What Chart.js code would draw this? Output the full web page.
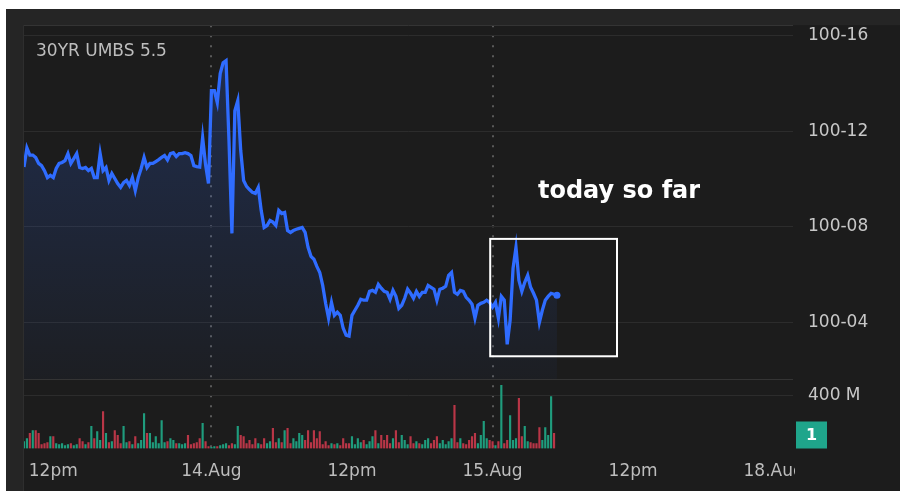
<!DOCTYPE html>
<html>
<head>
<meta charset="utf-8">
<script src="https://cdn.jsdelivr.net/npm/chart.js@4.4.1/dist/chart.umd.min.js"></script>
<style>
  html, body { margin: 0; padding: 0; background: #fff; }
  #wrap { width: 900px; height: 491px; }
</style>
</head>
<body>
<div id="wrap"><canvas id="umbsChart" width="900" height="491"></canvas></div>
<script>
// 30YR UMBS 5.5 - precio en 32avos sobre 100, una barra cada 15 min
const priceValues = [
  10.5, 11.3, 11.0, 11.0, 10.9, 10.65, 10.56, 10.35, 10.06, 10.15,
  10.06, 10.44, 10.65, 10.69, 10.77, 11.06, 10.65, 10.85, 11.06, 10.48,
  10.44, 10.48, 10.35, 10.44, 10.06, 10.06, 11.06, 10.35, 10.48, 9.94,
  10.23, 10.02, 9.81, 9.65, 9.85, 9.94, 9.73, 10.06, 9.52, 10.06,
  10.44, 10.9, 10.48, 10.65, 10.65, 10.73, 10.81, 10.9, 10.98, 10.8,
  11.06, 11.1, 10.94, 11.06, 11.06, 11.1, 11.06, 10.98, 10.56, 10.52,
  10.5, 11.73, 10.6, 9.81, 13.69, 13.69, 13.19, 14.4, 14.85, 14.94,
  11.6, 7.73, 12.85, 13.27, 11.2, 9.94, 9.69, 9.56, 9.44, 9.4,
  9.65, 8.69, 7.98, 8.06, 8.27, 8.2, 8.06, 8.69, 8.56, 8.6,
  7.85, 7.77, 7.85, 7.9, 7.94, 7.98, 7.77, 7.15, 6.77, 6.65,
  6.35, 6.1, 5.56, 4.81, 4.19, 4.85, 4.31, 4.44, 4.31, 3.77,
  3.48, 3.44, 4.31, 4.52, 4.73, 4.98, 4.94, 4.94, 5.31, 5.35,
  5.27, 5.6, 5.44, 5.31, 5.27, 4.98, 5.35, 5.1, 4.6, 4.73,
  5.02, 5.4, 5.23, 5.02, 5.31, 5.1, 5.27, 5.27, 5.56, 5.48,
  5.4, 4.94, 5.4, 5.44, 5.52, 5.98, 6.1, 5.27, 5.19, 5.35,
  5.31, 5.06, 4.94, 4.77, 4.19, 4.73, 4.81, 4.85, 4.94, 4.85,
  4.65, 4.85, 4.19, 5.1, 4.94, 3.1, 4.1, 6.27, 7.15, 5.77,
  5.31, 5.69, 5.98, 5.48, 5.23, 4.94, 4.02, 4.52, 4.94, 5.1,
  5.23, 5.19, 5.15
];

// Volumen en millones
const volumeValues = [
  53, 76, 114, 136, 136, 114, 30, 38, 45, 91,
  91, 38, 30, 38, 23, 30, 38, 23, 30, 76,
  53, 30, 45, 167, 76, 129, 61, 280, 114, 45,
  53, 136, 99, 38, 167, 45, 53, 30, 91, 38,
  61, 265, 114, 114, 45, 91, 38, 212, 45, 53,
  76, 61, 38, 38, 30, 38, 99, 30, 38, 45,
  76, 190, 53, 15, 8, 15, 15, 23, 30, 38,
  23, 38, 30, 167, 99, 91, 38, 61, 30, 76,
  38, 30, 76, 38, 53, 152, 45, 76, 45, 136,
  152, 38, 76, 53, 114, 99, 61, 136, 45, 136,
  76, 129, 30, 53, 23, 38, 30, 38, 23, 76,
  38, 38, 91, 30, 76, 45, 61, 30, 53, 91,
  136, 38, 99, 61, 99, 38, 76, 136, 45, 99,
  61, 30, 91, 38, 53, 38, 30, 61, 76, 38,
  61, 91, 38, 61, 30, 53, 76, 326, 45, 76,
  38, 30, 61, 91, 114, 38, 99, 205, 76, 61,
  53, 23, 53, 478, 38, 61, 250, 61, 76, 379,
  91, 167, 53, 45, 38, 38, 159, 61, 159, 99,
  394, 114
];

// Eje X: numero de barra (15 min), con fines de semana omitidos
const tickBars = [10, 64, 112, 160, 208, 256];
const tickLabels = ['12pm', '14.Aug', '12pm', '15.Aug', '12pm', '18.Aug'];
const dayBreaks = [64, 160];
const xRange = [0, 262.6];

// Eje Y
const priceTicks = [4, 8, 12, 16];
const priceRange = [1.65, 16.42];
const volumeTicks = [400];
const volumeRange = [0, 526];

// Anotaciones
const chartTitle = '30YR UMBS 5.5';
const todayBox = { from: 159.2, to: 202.5, top: 7.5, bottom: 2.6 };
const todayLabel = { text: 'today so far', bar: 175.5, price: 9.45 };
const volumeBadge = '1';

const FONT = 'DejaVu Sans';

function fmt32(v) {
    return '100-' + String(v).padStart(2, '0');
}

// Fondo y marco
const frameBackground = {
    id: 'frameBackground',
    beforeDraw(chart) {
        const { ctx, width, height, chartArea } = chart;
        ctx.save();
        ctx.fillStyle = '#ffffff';
        ctx.fillRect(0, 0, width, height);
        ctx.fillStyle = '#252525';
        ctx.fillRect(6, 9, width - 6, height - 9);
        ctx.fillStyle = '#1c1c1c';
        ctx.fillRect(chartArea.left, chartArea.top, width - chartArea.left, height - chartArea.top);
        ctx.fillStyle = '#2e2e2e';
        ctx.fillRect(chartArea.left - 1, chartArea.top, 1, height - chartArea.top);
        ctx.restore();
    },
    afterDraw(chart) {
        const { ctx, chartArea, width, height } = chart;
        ctx.save();
        // recorte de la ultima etiqueta del eje X
        ctx.fillStyle = '#1c1c1c';
        ctx.fillRect(chartArea.right + 2, chartArea.bottom + 4, width - chartArea.right, height - chartArea.bottom);
        // titulo
        ctx.font = '17px "' + FONT + '"';
        ctx.fillStyle = '#bdbdbd';
        ctx.textBaseline = 'middle';
        ctx.textAlign = 'left';
        ctx.fillText(chartTitle, chartArea.left + 12, chartArea.top + 26);
        // etiqueta verde del volumen
        const bx = chartArea.right + 3;
        const by = chartArea.bottom - 27;
        ctx.fillStyle = '#1fa58b';
        ctx.fillRect(bx, by, 31, 27);
        ctx.fillStyle = '#ffffff';
        ctx.font = 'bold 16px "' + FONT + '"';
        ctx.textAlign = 'center';
        ctx.fillText(volumeBadge, bx + 15.5, by + 14);
        ctx.restore();
    }
};

// Caja "today so far"
const todayAnnotation = {
    id: 'todayAnnotation',
    afterDatasetsDraw(chart) {
        const { ctx, scales } = chart;
        const x1 = scales.x.getPixelForValue(todayBox.from);
        const x2 = scales.x.getPixelForValue(todayBox.to);
        const y1 = scales.y.getPixelForValue(todayBox.top);
        const y2 = scales.y.getPixelForValue(todayBox.bottom);
        ctx.save();
        ctx.strokeStyle = '#ffffff';
        ctx.lineWidth = 2;
        ctx.strokeRect(x1, y1, x2 - x1, y2 - y1);
        ctx.fillStyle = '#ffffff';
        ctx.font = 'bold 24px "' + FONT + '"';
        ctx.textBaseline = 'middle';
        ctx.textAlign = 'left';
        ctx.fillText(todayLabel.text, scales.x.getPixelForValue(todayLabel.bar), scales.y.getPixelForValue(todayLabel.price));
        ctx.restore();
    }
};

const pricePoints = priceValues.map((v, i) => ({ x: i, y: v }));
const volumePoints = volumeValues.map((v, i) => ({ x: i, y: v }));
const volumeColors = volumeValues.map((v, i) =>
    (i === 0 || priceValues[i] >= priceValues[i - 1]) ? '#1f9c7d' : '#b93647');

const ctx = document.getElementById('umbsChart').getContext('2d');
const umbsChart = new Chart(ctx, {
    data: {
        datasets: [
            {
                type: 'line',
                label: chartTitle,
                data: pricePoints,
                yAxisID: 'y',
                borderColor: '#2f6cff',
                borderWidth: 3.3,
                tension: 0,
                pointRadius: pricePoints.map((p, i) => i === pricePoints.length - 1 ? 3.5 : 0),
                pointBackgroundColor: '#2f6cff',
                pointBorderWidth: 0,
                fill: 'start',
                backgroundColor: (c) => {
                    const chart = c.chart;
                    if (!chart.chartArea) return 'rgba(47,108,255,0.1)';
                    const ys = chart.scales.y;
                    const g = chart.ctx.createLinearGradient(0, ys.top, 0, ys.bottom);
                    g.addColorStop(0, 'rgba(47,108,255,0.24)');
                    g.addColorStop(1, 'rgba(47,108,255,0.03)');
                    return g;
                },
                order: 1
            },
            {
                type: 'bar',
                label: 'Volume',
                data: volumePoints,
                yAxisID: 'yVol',
                backgroundColor: volumeColors,
                barThickness: 1.5,
                grouped: false,
                order: 2
            }
        ]
    },
    options: {
        responsive: false,
        animation: false,
        layout: { padding: { left: 24, top: 25, right: 0, bottom: 0 } },
        plugins: {
            legend: { display: false },
            tooltip: { enabled: false }
        },
        scales: {
            x: {
                type: 'linear',
                offset: false,
                min: xRange[0],
                max: xRange[1],
                afterBuildTicks: (s) => { s.ticks = tickBars.map(v => ({ value: v })); },
                afterFit: (s) => { s.height = 42.5; },
                grid: {
                    offset: false,
                    drawTicks: false,
                    lineWidth: 2,
                    color: (c) => (c.tick && dayBreaks.includes(c.tick.value)) ? '#5a5a5a' : 'rgba(0,0,0,0)'
                },
                border: { display: false, dash: [2, 8] },
                ticks: {
                    autoSkip: false,
                    maxRotation: 0,
                    padding: 13,
                    color: '#bdbdbd',
                    font: { family: FONT, size: 17 },
                    callback: (v, i) => tickLabels[i]
                }
            },
            y: {
                type: 'linear',
                position: 'right',
                stack: 'pane',
                stackWeight: 354,
                min: priceRange[0],
                max: priceRange[1],
                afterBuildTicks: (s) => {
                    s.ticks = [priceRange[0], ...priceTicks, priceRange[1]].map(v => ({ value: v }));
                },
                afterFit: (s) => { s.width = 107; },
                grid: {
                    drawTicks: false,
                    color: (c) => (c.tick && priceTicks.includes(c.tick.value)) ? '#2c2c2c' : '#343434'
                },
                border: { display: false },
                ticks: {
                    padding: 15,
                    color: '#c8c8c8',
                    font: { family: FONT, size: 17 },
                    callback: (v) => priceTicks.includes(v) ? fmt32(v) : ''
                }
            },
            yVol: {
                type: 'linear',
                position: 'right',
                stack: 'pane',
                stackWeight: 69.5,
                min: volumeRange[0],
                max: volumeRange[1],
                afterBuildTicks: (s) => { s.ticks = volumeTicks.map(v => ({ value: v })); },
                afterFit: (s) => { s.width = 107; },
                grid: { drawTicks: false, color: '#2c2c2c' },
                border: { display: false },
                ticks: {
                    padding: 15,
                    color: '#c8c8c8',
                    font: { family: FONT, size: 17 },
                    callback: (v) => v + ' M'
                }
            }
        }
    },
    plugins: [frameBackground, todayAnnotation]
});
</script>
</body>
</html>
